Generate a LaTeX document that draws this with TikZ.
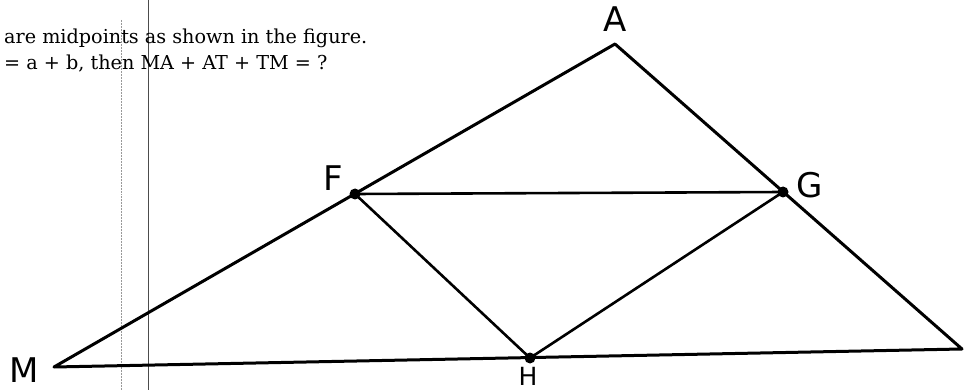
\documentclass[tikz,border=0pt]{standalone}
\usepackage{fontspec}
\setmainfont{DejaVu Serif}
\newfontfamily\handfont{DejaVu Sans}
\begin{document}
\begin{tikzpicture}[x=1pt,y=-1pt,
  side/.style={line width=3pt,line join=round,line cap=round},
  inner/.style={line width=2.6pt,line cap=round},
  dotmark/.style={circle,fill=black,inner sep=0pt,minimum size=11pt},
  lbl/.style={font=\handfont\fontsize{34}{34}\selectfont,inner sep=0pt},
  txt/.style={font=\fontsize{19.2}{22}\selectfont,inner sep=0pt,anchor=base west}]
\useasboundingbox (0,0) rectangle (969,390);
% scan artifacts
\draw[line width=0.5pt,black!70] (148,0) -- (148,390);
\draw[line width=0.5pt,densely dotted,black!40] (121,20) -- (121,390);
% text
\node[txt] (t1) at (4,43.5) {are midpoints as shown in the figure.};
\node[txt] (t2) at (4,70) {= a + b, then MA + AT + TM = ?};
% points
\coordinate (M) at (54,367);
\coordinate (A) at (615,44);
\coordinate (T) at (962,349);
\node[dotmark] (F) at (355,194) {};
\node[dotmark] (G) at (783,192) {};
\node[dotmark] (H) at (530,358) {};
\draw[side] (M) -- (A) -- (T) -- cycle;
\draw[inner] (F.center) -- (G.center);
\draw[inner] (F.center) -- (H.center) -- (G.center);
% labels
\node[lbl] (lA) at (615,19) {A};
\node[lbl] (lF) at (333,178) {F};
\node[lbl] (lG) at (810,185) {G};
\node[lbl] (lM) at (24,370) {M};
\node[lbl,font=\handfont\fontsize{25}{25}\selectfont] (lH) at (528,376) {H};
\end{tikzpicture}
\end{document}
